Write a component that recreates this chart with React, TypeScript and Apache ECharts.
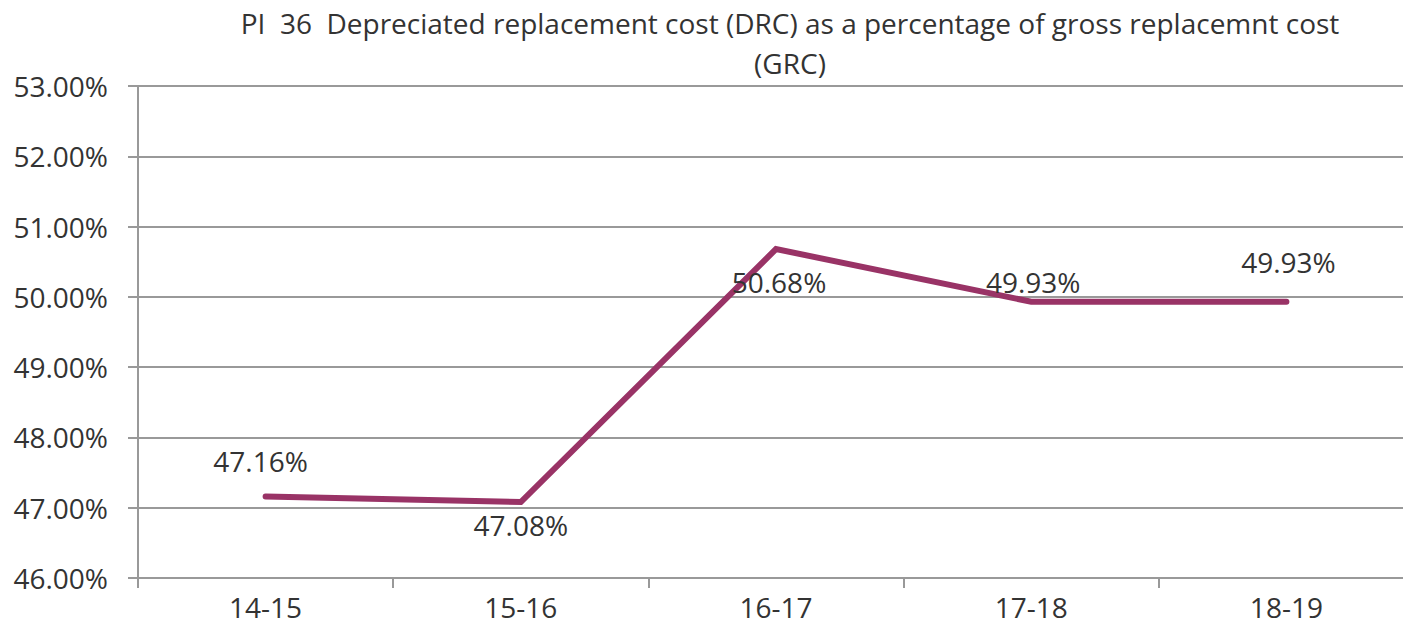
import React, { useEffect, useRef } from "react";
import * as echarts from "echarts";

const categories = ["14-15", "15-16", "16-17", "17-18", "18-19"];
const values = [47.16, 47.08, 50.68, 49.93, 49.93];
const labelPositions = ["top", "bottom", "bottom", "top", "top"];
const labelDistances = [21, 8, 18, 5, 25];
const labelDx = [-5, 0, 3, 2, 2];
const yTicks = { min: 46, max: 53, interval: 1 };
const titleText =
  "PI  36  Depreciated replacement cost (DRC) as a percentage of gross replacemnt cost\n(GRC)";

const FONT = "'Open Sans', 'Noto Sans', sans-serif";
const TEXT = "#333333";
const GRID = "#999999";
const LINE = "#993366";
const FS = 28;

export default function App() {
  const ref = useRef<HTMLDivElement>(null);
  useEffect(() => {
    if (!ref.current) return;
    const chart = echarts.init(ref.current, null, { renderer: "svg" });
    chart.setOption({
      animation: false,
      backgroundColor: "#ffffff",
      title: {
        text: titleText,
        left: 785,
        top: -2,
        textAlign: "center",
        textStyle: {
          fontFamily: FONT,
          fontSize: FS,
          fontWeight: "normal",
          color: TEXT,
          lineHeight: 40,
        },
      },
      grid: { left: 138, top: 86, right: 0, bottom: 56, containLabel: false },
      xAxis: {
        type: "category",
        data: categories,
        boundaryGap: true,
        axisLine: { show: true, lineStyle: { color: GRID, width: 2 } },
        axisTick: { show: true, length: 10, lineStyle: { color: GRID, width: 2 } },
        axisLabel: { fontFamily: FONT, fontSize: FS, color: TEXT, margin: 15 },
        splitLine: { show: false },
      },
      yAxis: {
        type: "value",
        min: yTicks.min,
        max: yTicks.max,
        interval: yTicks.interval,
        axisLine: { show: true, lineStyle: { color: GRID, width: 2 } },
        axisTick: { show: true, length: 10, lineStyle: { color: GRID, width: 2 } },
        axisLabel: {
          fontFamily: FONT,
          fontSize: FS,
          color: TEXT,
          margin: 30,
          formatter: (v: number) => v.toFixed(2) + "%",
        },
        splitLine: { show: true, lineStyle: { color: GRID, width: 2 } },
      },
      series: [
        {
          type: "line",
          data: values.map((v, i) => ({
            value: v,
            label: {
              position: labelPositions[i],
              distance: labelDistances[i],
            },
          })),
          symbol: "circle",
          symbolSize: 1,
          showSymbol: true,
          itemStyle: { color: "rgba(0,0,0,0)", borderWidth: 0 },
          lineStyle: { color: LINE, width: 6, cap: "round", join: "miter" },
          label: {
            show: true,
            fontFamily: FONT,
            fontSize: FS,
            color: TEXT,
            formatter: (p: any) => Number(p.value).toFixed(2) + "%",
          },
          labelLayout: (p: any) => ({ dx: labelDx[p.dataIndex], hideOverlap: false }),
        },
      ],
    });
    return () => chart.dispose();
  }, []);
  return (
    <div
      ref={ref}
      style={{ position: "fixed", left: 0, top: 0, width: 1414, height: 634 }}
    />
  );
}
